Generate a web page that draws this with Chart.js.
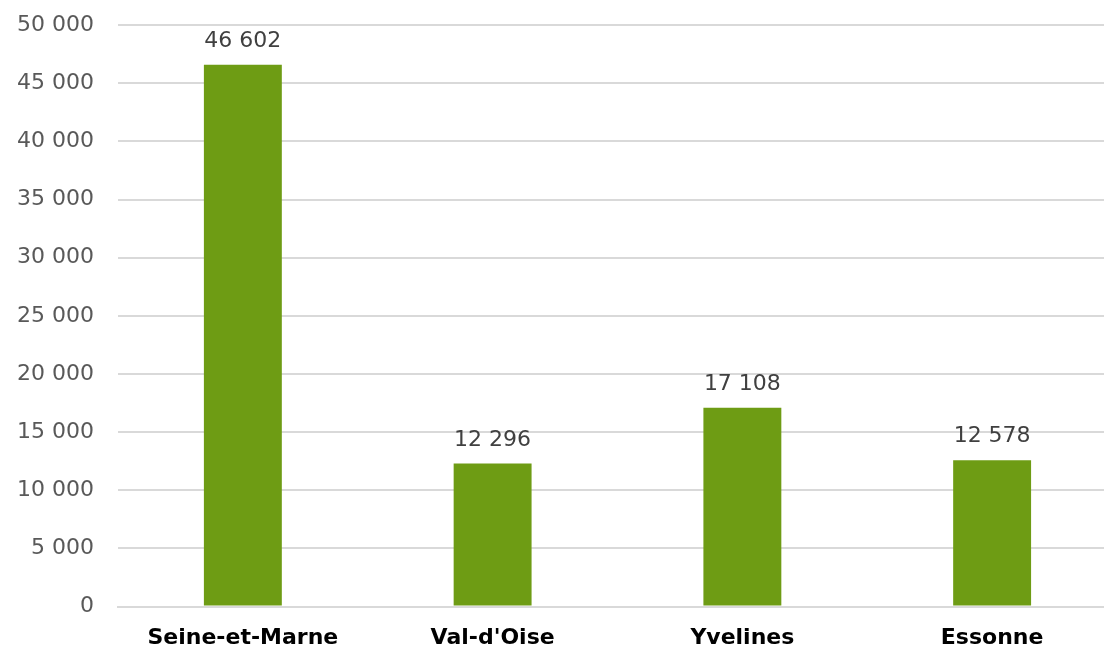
<!DOCTYPE html>
<html>
<head>
<meta charset="utf-8">
<script src="https://cdn.jsdelivr.net/npm/chart.js@4"></script>
<style>
  html, body { margin: 0; padding: 0; background: #fff; }
  #wrap { position: relative; width: 1104px; height: 645px; overflow: hidden; }
  #inner { position: absolute; left: -7px; top: -12px; width: 1124px; height: 681px; }
</style>
</head>
<body>
<div id="wrap"><div id="inner"><canvas id="myChart"></canvas></div></div>
<script>
const categories = ['Seine-et-Marne', "Val-d'Oise", 'Yvelines', 'Essonne'];
const values = [46602, 12296, 17108, 12578];

function fmt(n) {
    return String(n).replace(/\B(?=(\d{3})+(?!\d))/g, ' ');
}

const valueLabels = {
    id: 'valueLabels',
    afterDatasetsDraw(chart) {
        const c = chart.ctx;
        const meta = chart.getDatasetMeta(0);
        c.save();
        c.font = '22px "DejaVu Sans"';
        c.fillStyle = '#404040';
        c.textAlign = 'center';
        c.textBaseline = 'alphabetic';
        meta.data.forEach(function(bar, i) {
            c.fillText(fmt(values[i]), bar.x, bar.y - 18);
        });
        c.restore();
    }
};

const ctx = document.getElementById('myChart');

new Chart(ctx, {
    type: 'bar',
    data: {
        labels: categories,
        datasets: [{
            data: values,
            backgroundColor: '#6e9c14',
            barPercentage: 0.624,
            categoryPercentage: 0.5
        }]
    },
    options: {
        responsive: true,
        maintainAspectRatio: false,
        animation: false,
        layout: { padding: 0 },
        plugins: {
            legend: { display: false },
            tooltip: { enabled: false }
        },
        scales: {
            x: {
                grid: { display: false, drawTicks: false },
                border: { color: '#d9d9d9', width: 2 },
                ticks: {
                    color: '#000',
                    padding: 18,
                    font: { family: 'DejaVu Sans', size: 22, weight: 'bold' }
                }
            },
            y: {
                min: 0,
                max: 50000,
                grid: { color: '#d9d9d9', lineWidth: 2, drawTicks: false },
                border: { display: false },
                ticks: {
                    stepSize: 5000,
                    color: '#595959',
                    padding: 24,
                    font: { family: 'DejaVu Sans', size: 22 },
                    callback: function(v) { return fmt(v); }
                }
            }
        }
    },
    plugins: [valueLabels]
});
</script>
</body>
</html>
